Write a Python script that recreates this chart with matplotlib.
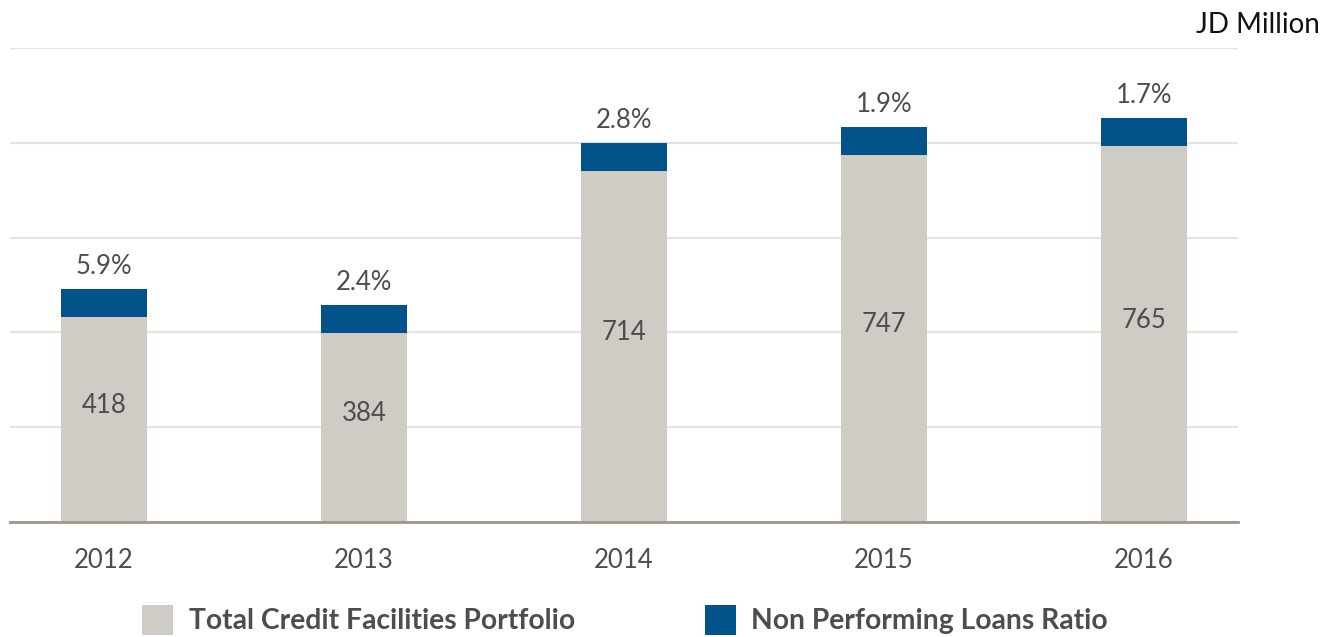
import matplotlib
matplotlib.use("Agg")
import matplotlib.pyplot as plt
from matplotlib.patches import Patch
import numpy as np

plt.rcParams['font.family'] = ['Lato', 'DejaVu Sans']

years = ["2012", "2013", "2014", "2015", "2016"]
portfolio = [418, 384, 714, 747, 765]
npl_ratio = ["5.9%", "2.4%", "2.8%", "1.9%", "1.7%"]
npl_cap = [57, 57, 57, 57, 57]  # constant cap segment drawn on each bar

GRAY = "#CFCBC5"
BLUE = "#02538A"
GRID = "#E6E3DF"
BASE = "#A0978C"
TXT = "#4D4D4D"

W, H = 1323, 637
fig = plt.figure(figsize=(W / 100, H / 100), dpi=100)
ax = fig.add_axes([10 / W, (H - 522) / H, (1238 - 10) / W, (522 - 48) / H])

x = np.arange(len(years))
bw = 0.331
ax.bar(x, portfolio, width=bw, color=GRAY, zorder=2)
ax.bar(x, npl_cap, width=bw, bottom=portfolio, color=BLUE, zorder=2)

ymax = 965
ax.set_ylim(0, ymax)
ax.set_xlim(-0.3615, len(years) - 1 + 0.3615)
ax.set_yticks(np.linspace(0, ymax, 6))
ax.yaxis.grid(True, color=GRID, linewidth=1.6, zorder=0)
ax.tick_params(axis='y', length=0, labelleft=False)
ax.set_xticks(x)
ax.set_xticklabels(years, fontsize=18.5, color=TXT)
ax.tick_params(axis='x', length=0, pad=19)
for s in ["top", "right", "left"]:
    ax.spines[s].set_visible(False)
ax.spines["bottom"].set_color(BASE)
ax.spines["bottom"].set_linewidth(2)
ax.spines["bottom"].set_zorder(3)

for xi, v, c, r in zip(x, portfolio, npl_cap, npl_ratio):
    ax.text(xi, (v + c) / 2, str(v), ha='center', va='center', fontsize=18.5, color=TXT, zorder=4)
    ax.text(xi, v + c + 46, r, ha='center', va='center', fontsize=18.5, color=TXT, zorder=4, clip_on=False)

fig.text(1320 / W, 1 - 25 / H, "JD Million", ha='right', va='center', fontsize=20, color="#111111")

handles = [Patch(facecolor=GRAY, edgecolor='none'), Patch(facecolor=BLUE, edgecolor='none')]
leg = fig.legend(handles, ["Total Credit Facilities Portfolio", "Non Performing Loans Ratio"],
                 loc='center', bbox_to_anchor=(625 / W, 17 / H), ncol=2, frameon=False,
                 prop={'size': 20.3, 'weight': 'bold'}, handlelength=1.1, handleheight=1.3,
                 handletextpad=0.55, columnspacing=4.6)
for t in leg.get_texts():
    t.set_color(TXT)

fig.savefig("out.png", dpi=100)
